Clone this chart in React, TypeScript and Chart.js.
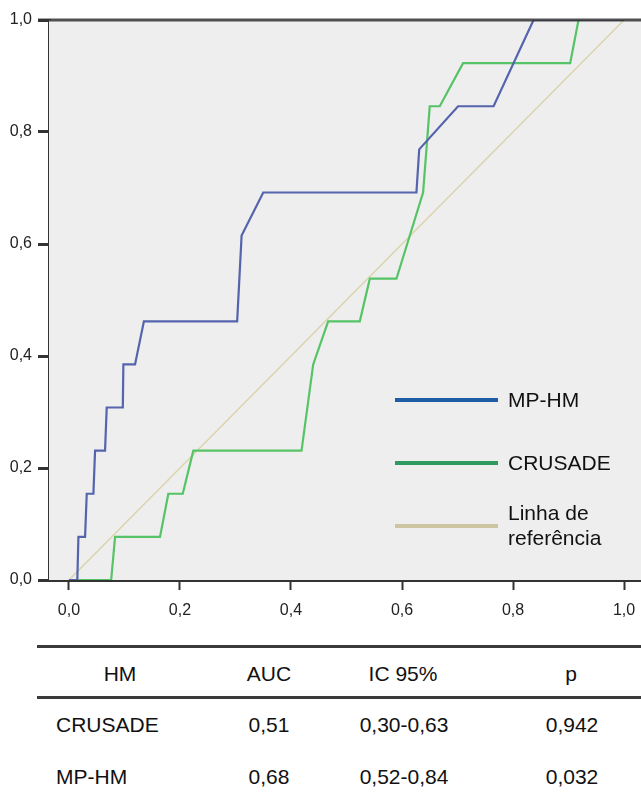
import React, { useEffect, useRef } from "react";
import { Chart, registerables } from "chart.js";

Chart.register(...registerables);

// ---- data ----
const mpHmFpr = [0, 0.015, 0.017, 0.029, 0.032, 0.044, 0.047, 0.065, 0.068, 0.097, 0.098, 0.119, 0.135, 0.303, 0.311, 0.35, 0.626, 0.631, 0.701, 0.765, 0.837, 1.0];
const mpHmTpr = [0, 0, 0.077, 0.077, 0.154, 0.154, 0.231, 0.231, 0.308, 0.308, 0.385, 0.385, 0.462, 0.462, 0.615, 0.692, 0.692, 0.769, 0.846, 0.846, 1.0, 1.0];

const crusadeFpr = [0, 0.076, 0.083, 0.164, 0.179, 0.205, 0.224, 0.419, 0.44, 0.467, 0.524, 0.542, 0.59, 0.638, 0.65, 0.668, 0.71, 0.903, 0.918, 1.0];
const crusadeTpr = [0, 0, 0.077, 0.077, 0.154, 0.154, 0.231, 0.231, 0.385, 0.462, 0.462, 0.538, 0.538, 0.692, 0.846, 0.846, 0.923, 0.923, 1.0, 1.0];

const refFpr = [0, 1];
const refTpr = [0, 1];

const xTicks = [0, 0.2, 0.4, 0.6, 0.8, 1.0];
const yTicks = [0, 0.2, 0.4, 0.6, 0.8, 1.0];

const legendLabels = ["MP-HM", "CRUSADE", "Linha de\nreferência"];

const tableHeader = ["HM", "AUC", "IC 95%", "p"];
const tableModels = ["CRUSADE", "MP-HM"];
const tableAuc = ["0,51", "0,68"];
const tableCi = ["0,30-0,63", "0,52-0,84"];
const tableP = ["0,942", "0,032"];

// ---- styles ----
const FONT = "'Liberation Sans', Arial, Helvetica, sans-serif";
const AXIS = "#333333";
const COLORS = {
  mp: "#5464ad",
  crusade: "#56c466",
  ref: "#d9d4a9",
  legMp: "#1e5ca6",
  legCr: "#2f9a5f",
  legRef: "#cdc4a2",
};

const fmt = (v: number) => v.toFixed(1).replace(".", ",");
const pts = (xs: number[], ys: number[]) => xs.map((x, i) => ({ x, y: ys[i] }));

const framePlugin = {
  id: "frame",
  beforeDatasetsDraw(chart: any) {
    const { ctx, chartArea } = chart;
    ctx.save();
    ctx.fillStyle = "#eeeeee";
    ctx.fillRect(chartArea.left, chartArea.top, chartArea.right - chartArea.left, chartArea.bottom - chartArea.top);
    ctx.restore();
  },
  afterDatasetsDraw(chart: any) {
    const { ctx, chartArea } = chart;
    ctx.save();
    ctx.strokeStyle = AXIS;
    ctx.lineWidth = 3;
    ctx.globalAlpha = 0.85;
    ctx.beginPath();
    ctx.moveTo(chartArea.left - 11, chartArea.top);
    ctx.lineTo(chartArea.right, chartArea.top);
    ctx.stroke();
    ctx.globalAlpha = 1;

    // legend
    const x0 = 395, x1 = 498, tx = 508;
    const items = [
      { y: 400, color: COLORS.legMp, label: legendLabels[0] },
      { y: 463, color: COLORS.legCr, label: legendLabels[1] },
      { y: 526, color: COLORS.legRef, label: legendLabels[2] },
    ];
    ctx.font = `21px ${FONT}`;
    ctx.textBaseline = "middle";
    ctx.textAlign = "left";
    items.forEach((it) => {
      ctx.strokeStyle = it.color;
      ctx.lineWidth = 4;
      ctx.beginPath();
      ctx.moveTo(x0, it.y);
      ctx.lineTo(x1, it.y);
      ctx.stroke();
      ctx.fillStyle = "#111";
      const lines = it.label.split("\n");
      const lh = 25;
      lines.forEach((ln, i) => {
        ctx.fillText(ln, tx, it.y + 1 - ((lines.length - 1) * lh) / 2 + i * lh);
      });
    });
    ctx.restore();
  },
};

function ChartCanvas() {
  const ref = useRef<HTMLCanvasElement>(null);
  useEffect(() => {
    if (!ref.current) return;
    Chart.defaults.font.family = FONT;
    const chart = new Chart(ref.current, {
      type: "scatter",
      data: {
        datasets: [
          {
            label: "MP-HM",
            data: pts(mpHmFpr, mpHmTpr),
            showLine: true,
            borderColor: COLORS.mp,
            borderWidth: 2.2,
            pointRadius: 0,
            tension: 0,
          },
          {
            label: "CRUSADE",
            data: pts(crusadeFpr, crusadeTpr),
            showLine: true,
            borderColor: COLORS.crusade,
            borderWidth: 2.2,
            pointRadius: 0,
            tension: 0,
          },
          {
            label: "Linha de referência",
            data: pts(refFpr, refTpr),
            showLine: true,
            borderColor: COLORS.ref,
            borderWidth: 1.4,
            pointRadius: 0,
            tension: 0,
          },
        ],
      },
      options: {
        animation: false,
        responsive: false,
        devicePixelRatio: 1,
        layout: { padding: { top: 20, right: 0, left: 0, bottom: 0 } },
        plugins: { legend: { display: false }, tooltip: { enabled: false } },
        scales: {
          x: {
            type: "linear",
            position: "bottom",
            min: -0.036,
            max: 1.0306,
            afterBuildTicks: (s: any) => {
              s.ticks = xTicks.map((v) => ({ value: v }));
            },
            ticks: { font: { size: 16 }, color: "#222", padding: 11, callback: (v: any) => fmt(Number(v)), maxRotation: 0 },
            grid: { drawOnChartArea: false, drawTicks: true, tickLength: 10, tickColor: AXIS, tickWidth: 2 },
            border: { color: AXIS, width: 3 },
            afterFit: (s: any) => {
              s.height = 42;
              s.paddingLeft = 0;
              s.paddingRight = 0;
            },
          },
          y: {
            type: "linear",
            min: 0,
            max: 1,
            afterBuildTicks: (s: any) => {
              s.ticks = yTicks.map((v) => ({ value: v }));
            },
            ticks: { font: { size: 16 }, color: "#222", padding: 6, callback: (v: any) => fmt(Number(v)) },
            grid: { drawOnChartArea: false, tickLength: 11, tickColor: AXIS, tickWidth: 3 },
            border: { color: AXIS, width: 3 },
            afterFit: (s: any) => {
              s.width = 49;
            },
          },
        },
      },
      plugins: [framePlugin],
    } as any);
    return () => chart.destroy();
  }, []);
  return <canvas ref={ref} width={641} height={622} style={{ display: "block", width: 641, height: 622 }} />;
}

const cellStyle = (cx: number, cy: number, align: "center" | "left" = "center"): React.CSSProperties => ({
  position: "absolute",
  top: cy - 12,
  left: align === "center" ? cx - 100 : cx,
  width: 200,
  height: 24,
  lineHeight: "24px",
  textAlign: align,
  fontFamily: FONT,
  fontSize: 21,
  color: "#111",
  whiteSpace: "nowrap",
});

export default function App() {
  const colX = [120, 269, 403, 571];
  const rowY = [725, 777];
  return (
    <div style={{ position: "absolute", left: 0, top: 0, width: 641, height: 795, overflow: "hidden", background: "#fff" }}>
      <ChartCanvas />
      <div style={{ position: "absolute", left: 37, top: 645, width: 604, height: 3, background: "#3a3a3a" }} />
      <div style={{ position: "absolute", left: 37, top: 696, width: 604, height: 3, background: "#3a3a3a" }} />
      {tableHeader.map((h, i) => (
        <div key={h} style={cellStyle(colX[i], 674)}>
          {h}
        </div>
      ))}
      {tableModels.map((m, r) => (
        <React.Fragment key={m}>
          <div style={cellStyle(56, rowY[r], "left")}>{m}</div>
          <div style={cellStyle(269, rowY[r])}>{tableAuc[r]}</div>
          <div style={cellStyle(404, rowY[r])}>{tableCi[r]}</div>
          <div style={cellStyle(572, rowY[r])}>{tableP[r]}</div>
        </React.Fragment>
      ))}
    </div>
  );
}
